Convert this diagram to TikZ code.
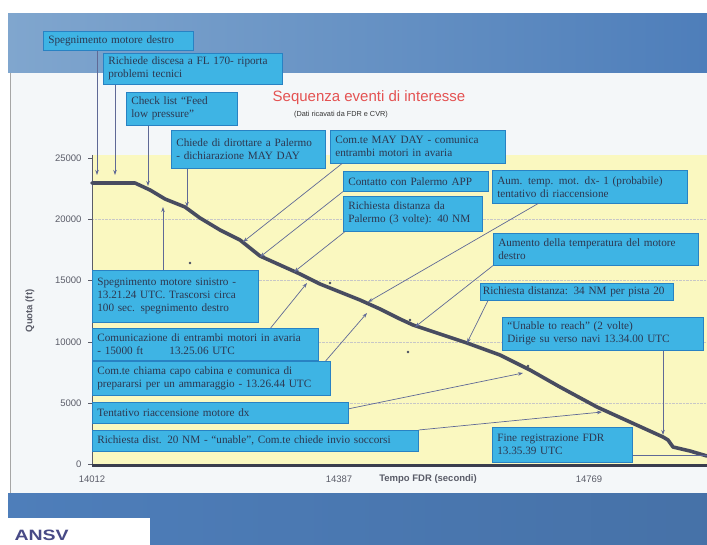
\documentclass[tikz,border=0pt]{standalone}
\usepackage{fontspec}
\setmainfont{Liberation Serif}
\setsansfont{Liberation Sans}
\usetikzlibrary{arrows.meta}

\definecolor{boxblue}{RGB}{62,180,228}
\definecolor{boxedge}{RGB}{40,130,195}
\definecolor{boxtext}{RGB}{45,55,80}
\definecolor{plotyellow}{RGB}{250,248,192}
\definecolor{panelwhite}{RGB}{244,247,249}
\definecolor{bandblue}{RGB}{78,126,186}
\definecolor{bandlight}{RGB}{128,166,206}
\definecolor{pathgray}{RGB}{72,76,96}
\definecolor{arrowgray}{RGB}{95,105,150}
\definecolor{titlered}{RGB}{228,82,82}
\definecolor{axisgray}{RGB}{90,92,104}

\tikzset{
  evbox/.style={fill=boxblue, draw=boxedge, line width=0.6pt, anchor=north west,
    align=left, inner xsep=5pt, inner ysep=1pt, text=boxtext,
    font=\fontsize{11.2}{13}\selectfont},
  evarrow/.style={draw=arrowgray, line width=0.7pt, -{Stealth[length=5pt,width=3.5pt]}},
  ticklabel/.style={anchor=east, text=axisgray, font=\sffamily\fontsize{9.5}{11}\selectfont},
  axistitle/.style={text=axisgray, font=\sffamily\bfseries\fontsize{9.5}{11}\selectfont}
}

\begin{document}
\begin{tikzpicture}[x=1pt,y=-1pt]
  \useasboundingbox (0,0) rectangle (707,545);
  \fill[white] (0,0) rectangle (707,545); % page
  \fill[left color=bandlight, right color=bandblue] (8,14) rectangle (707,73); % top band
  \fill[panelwhite] (10,73) rectangle (707,493); % slide panel
  \draw[gray!70] (10,73) -- (10,493);
  \fill[left color=bandblue, right color=bandblue!90!black] (8,493) rectangle (707,545); % bottom band
  \fill[white] (8,518) rectangle (150,545);
  \node[anchor=west, text=axisgray!80!blue, font=\sffamily\bfseries\fontsize{15}{16}\selectfont] (ansv) at (11,535) {\scalebox{1.3}[1]{ANSV}};

  % plot area
  \fill[plotyellow] (92,155) rectangle (707,464);
  \foreach \y in {219,280,342,403}
    \draw[densely dotted, black!22] (92,\y) -- (707,\y); % grid
  \draw[axisgray, line width=0.6pt] (92,155) -- (92,464); % y axis
  \foreach \v/\y in {0/464,5000/403,10000/342,15000/280,20000/219,25000/158} {
    \draw[axisgray] (88,\y) -- (92,\y);
    \node[ticklabel] at (85,\y) {\v};
  }
  \draw[pathgray!80!black, line width=3pt] (92,465) -- (707,465); % x axis
  \node[ticklabel, anchor=center] (xa) at (92,479) {14012};
  \node[ticklabel, anchor=center] (xb) at (339,479) {14387};
  \node[ticklabel, anchor=center] (xc) at (589,479) {14769};
  \node[axistitle] (xtitle) at (428,479) {Tempo FDR (secondi)};
  \node[axistitle, rotate=90] (ytitle) at (30,311) {Quota (ft)};

  % titles
  \node[text=titlered, font=\sffamily\fontsize{15}{17}\selectfont] (title) at (369,98) {Sequenza eventi di interesse};
  \node[text=black!80, font=\sffamily\fontsize{7.3}{8}\selectfont] (subtitle) at (341,115) {(Dati ricavati da FDR e CVR)};

  % flight path
  \draw[pathgray, line width=3.6pt, line join=round, line cap=round]
    (92,183) -- (135,183) -- (150,190) -- (165,199) -- (185,207) -- (200,218)
    -- (220,230) -- (240,240) -- (260,256) -- (280,265) -- (300,274) -- (320,284)
    -- (340,292) -- (360,300) -- (380,309) -- (400,319) -- (413,325) -- (440,334)
    -- (467,343) -- (500,355) -- (530,370) -- (560,387) -- (597,407) -- (630,422)
    -- (663,437) -- (668,440) -- (673,447) -- (690,451) -- (707,456);
  \foreach \p in {(190,263),(330,283),(408,352),(410,320),(528,366)}
    \fill[pathgray] \p circle[radius=1.4pt]; % data marks

  % arrow ends
  \coordinate (t1) at (97,175);
  \coordinate (t2) at (115,175);
  \coordinate (t3) at (148,186);
  \coordinate (t4) at (187,207);
  \coordinate (t5) at (243,242);
  \coordinate (t6) at (260,257);
  \coordinate (t7) at (294,272);
  \coordinate (t8) at (368,302);
  \coordinate (t9) at (415,327);
  \coordinate (t10) at (467,343);
  \coordinate (t11) at (663,435);
  \coordinate (t12) at (707,455);
  \coordinate (t13) at (163,207);
  \coordinate (t14) at (307,283);
  \coordinate (t15) at (367,313);
  \coordinate (t16) at (523,373);
  \coordinate (t17) at (602,412);

  % event boxes
  \node[evbox, text width=140pt, minimum height=19pt] (b1) at (43,31) {Spegnimento motore destro};
  \node[evbox, text width=169pt, minimum height=31pt] (b2) at (103,53) {Richiede discesa a FL 170- riporta\\problemi tecnici};
  \node[evbox, text width=101pt, minimum height=33pt] (b3) at (126,92) {Check list “Feed\\low pressure”};
  \node[evbox, text width=144pt, minimum height=38pt] (b4) at (171,130) {Chiede di dirottare a Palermo\\- dichiarazione MAY DAY};
  \node[evbox, text width=165pt, minimum height=33pt] (b5) at (330,130) {Com.te MAY DAY - comunica\\entrambi motori in avaria};
  \node[evbox, text width=135pt, minimum height=20pt] (b6) at (343,171) {Contatto con Palermo APP};
  \node[evbox, text width=129pt, minimum height=35pt] (b7) at (343,196) {Richiesta distanza da\\Palermo (3 volte): 40 NM};
  \node[evbox, text width=185pt, minimum height=33pt] (b8) at (492,170) {Aum. temp. mot. dx- 1 (probabile)\\tentativo di riaccensione};
  \node[evbox, text width=195pt, minimum height=32pt] (b9) at (493,233) {Aumento della temperatura del motore\\destro};
  \node[evbox, inner xsep=2.5pt, text width=188pt, minimum height=17pt] (b10) at (480,283) {Richiesta distanza: 34 NM per pista 20};
  \node[evbox, text width=191pt, minimum height=33pt] (b11) at (502,317) {“Unable to reach” (2 volte)\\Dirige su verso navi 13.34.00 UTC};
  \node[evbox, text width=130pt, minimum height=35pt] (b12) at (492,427) {Fine registrazione FDR\\13.35.39 UTC};
  \node[evbox, text width=156pt, minimum height=52pt] (b13) at (92,270) {Spegnimento motore sinistro -\\13.21.24 UTC. Trascorsi circa\\100 sec. spegnimento destro};
  \node[evbox, text width=216pt, minimum height=32pt] (b14) at (92,328) {Comunicazione di entrambi motori in avaria\\- 15000 ft\qquad\ 13.25.06 UTC};
  \node[evbox, text width=228pt, minimum height=34pt] (b15) at (92,361) {Com.te chiama capo cabina e comunica di\\prepararsi per un ammaraggio - 13.26.44 UTC};
  \node[evbox, text width=246pt, minimum height=21pt] (b16) at (92,402) {Tentativo riaccensione motore dx};
  \node[evbox, text width=316pt, minimum height=21pt] (b17) at (92,430) {Richiesta dist. 20 NM - “unable”, Com.te chiede invio soccorsi};

  % connectors
  \draw[evarrow] (b1.south -| t1) -- (t1);
  \draw[evarrow] (b2.south -| t2) -- (t2);
  \draw[evarrow] (b3.south -| t3) -- (t3);
  \draw[evarrow] (b4.south -| t4) -- (t4);
  \draw[evarrow] ([xshift=12pt]b5.south west) -- (t5);
  \draw[evarrow] (b6.south west) -- (t6);
  \draw[evarrow] ([xshift=2pt]b7.south west) -- (t7);
  \draw[evarrow] ([xshift=46pt]b8.south west) -- (t8);
  \draw[evarrow] (b9.south west) -- (t9);
  \draw[evarrow] ([xshift=8pt]b10.south west) -- (t10);
  \draw[evarrow] (b11.south -| t11) -- (t11);
  \draw[draw=arrowgray, line width=0.7pt] (b12.east |- t12) -- (t12);
  \draw[evarrow] (b13.north -| t13) -- (t13);
  \draw[evarrow] ([xshift=-48pt]b14.north east) -- (t14);
  \draw[evarrow] ([xshift=-5pt]b15.north east) -- (t15);
  \draw[evarrow] ([yshift=4pt]b16.east) -- (t16);
  \draw[evarrow] (b17.north east) -- (t17);
\end{tikzpicture}
\end{document}
